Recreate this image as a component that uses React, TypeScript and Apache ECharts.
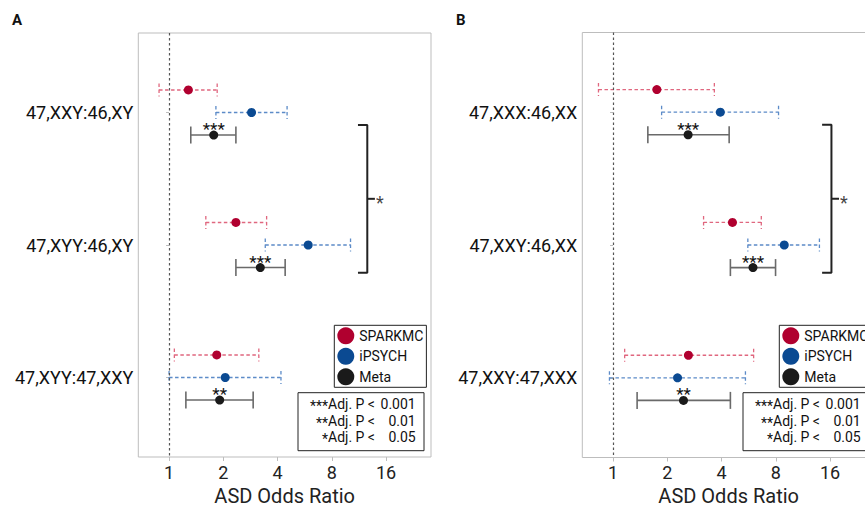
import React, { useEffect, useRef } from 'react';
import * as echarts from 'echarts';

// ---------- data ----------
const panelACategories = ['47,XXY:46,XY', '47,XYY:46,XY', '47,XYY:47,XXY'];
const panelBCategories = ['47,XXX:46,XX', '47,XXY:46,XX', '47,XXY:47,XXX'];
const xTickValues = [1, 2, 4, 8, 16];
const seriesNames = ['SPARKMC', 'iPSYCH', 'Meta'];

// Panel A
const aSparkOR = [1.28, 2.35, 1.84];
const aSparkLo = [0.88, 1.6, 1.07];
const aSparkHi = [1.85, 3.48, 3.15];
const aIpsychOR = [2.87, 5.92, 2.05];
const aIpsychLo = [1.82, 3.42, 1.0];
const aIpsychHi = [4.52, 10.17, 4.18];
const aMetaOR = [1.77, 3.21, 1.91];
const aMetaLo = [1.32, 2.35, 1.24];
const aMetaHi = [2.35, 4.41, 2.93];
const aMetaStars = ['***', '***', '**'];

// Panel B
const bSparkOR = [1.75, 4.6, 2.62];
const bSparkLo = [0.83, 3.18, 1.16];
const bSparkHi = [3.65, 6.65, 6.03];
const bIpsychOR = [3.94, 8.92, 2.28];
const bIpsychLo = [1.86, 5.6, 0.955];
const bIpsychHi = [8.29, 13.98, 5.43];
const bMetaOR = [2.61, 5.98, 2.46];
const bMetaLo = [1.56, 4.48, 1.36];
const bMetaHi = [4.41, 7.98, 4.48];
const bMetaStars = ['***', '***', '**'];

// comparison bracket (between row 1 and row 2), in OR units / row units
const aBracketX = 12.6;
const bBracketX = 16.3;
const bracketRows = [1.094, 2.209];
const bracketStar = '*';

const pKeyStars = ['***', '**', '*'];
const pKeyValues = ['0.001', '0.01', '0.05'];

// ---------- styling ----------
const FONT = 'Roboto, "Noto Sans", sans-serif';
const RED = '#B0002F';
const RED_CI = '#E0677F';
const BLUE = '#0B4A92';
const BLUE_CI = '#5C8BC8';
const BLACK = '#1A1A1A';
const META_CI = '#6A6A6A';
const BORDER = '#BDBDBD';

const X_MIN = -0.567;
const X_MAX = 4.83;
const log2 = (v: number) => Math.log2(v);

function ciSeries(name: string, gridIdx: number, lo: number[], hi: number[], offset: number, color: string, dashed: boolean, capHalf: number, width: number) {
  return {
    type: 'custom',
    name: name + ' CI',
    xAxisIndex: gridIdx,
    yAxisIndex: gridIdx,
    encode: { x: [0, 1], y: 2 },
    data: lo.map((l, i) => [log2(l), log2(hi[i]), i + 1 + offset]),
    renderItem: (params: any, api: any) => {
      const y = api.value(2);
      const p1 = api.coord([api.value(0), y]);
      const p2 = api.coord([api.value(1), y]);
      const style: any = { stroke: color, lineWidth: width, fill: 'none' };
      if (dashed) style.lineDash = [3.5, 2.5];
      return {
        type: 'group',
        children: [
          { type: 'line', shape: { x1: p1[0], y1: p1[1], x2: p2[0], y2: p2[1] }, style },
          { type: 'line', shape: { x1: p1[0], y1: p1[1] - capHalf, x2: p1[0], y2: p1[1] + capHalf }, style },
          { type: 'line', shape: { x1: p2[0], y1: p2[1] - capHalf, x2: p2[0], y2: p2[1] + capHalf }, style },
        ],
      };
    },
    silent: true,
    z: 2,
  };
}

function pointSeries(name: string, gridIdx: number, or: number[], offset: number, color: string, stars?: string[], withRef?: boolean) {
  const s: any = {
    type: 'scatter',
    name,
    xAxisIndex: gridIdx,
    yAxisIndex: gridIdx,
    symbol: 'circle',
    symbolSize: 9,
    itemStyle: { color, opacity: 1 },
    data: or.map((v, i) => [log2(v), i + 1 + offset]),
    z: 3,
  };
  if (stars) {
    s.label = {
      show: true,
      position: 'inside',
      offset: [0, -6],
      formatter: (p: any) => stars[p.dataIndex],
      fontSize: 17,
      fontFamily: FONT,
      color: '#111',
    };
  }
  if (withRef) {
    s.markLine = {
      silent: true,
      symbol: 'none',
      label: { show: false },
      lineStyle: { color: '#555', type: [2.5, 2.5], width: 1.2 },
      data: [{ xAxis: 0 }],
    };
  }
  return s;
}

function bracketSeries(gridIdx: number, bx: number) {
  const xv = log2(bx);
  const left = xv - 0.172;
  const right = xv + 0.14;
  const mid = (bracketRows[0] + bracketRows[1]) / 2;
  const ls = { color: '#222', width: 2 };
  return [
    {
      type: 'line',
      name: 'bracket',
      xAxisIndex: gridIdx,
      yAxisIndex: gridIdx,
      symbol: 'none',
      lineStyle: ls,
      silent: true,
      data: [
        [left, bracketRows[0]],
        [xv, bracketRows[0]],
        [xv, bracketRows[1]],
        [left, bracketRows[1]],
      ],
    },
    {
      type: 'line',
      name: 'bracket-mid',
      xAxisIndex: gridIdx,
      yAxisIndex: gridIdx,
      symbol: 'none',
      lineStyle: ls,
      silent: true,
      data: [
        [xv, mid],
        [right, mid],
      ],
    },
    {
      type: 'scatter',
      name: 'bracket-star',
      xAxisIndex: gridIdx,
      yAxisIndex: gridIdx,
      symbolSize: 0,
      silent: true,
      data: [[right, mid]],
      label: {
        show: true,
        position: 'right',
        distance: 1,
        offset: [0, 4],
        formatter: bracketStar,
        fontSize: 18,
        fontFamily: FONT,
        color: '#111',
      },
    },
  ];
}

function pKeyGraphics(x0: number) {
  const items: any[] = [
    {
      type: 'rect',
      shape: { x: x0, y: 392.7, width: 126, height: 58 },
      style: { fill: '#fff', stroke: '#222', lineWidth: 1 },
      z: 10,
    },
  ];
  const ys = [404, 420.5, 437];
  pKeyStars.forEach((st, i) => {
    const common = { fontSize: 14, fontFamily: FONT, fill: '#111', verticalAlign: 'middle' };
    items.push({ type: 'text', x: x0 + 30, y: ys[i] + 2, style: { ...common, text: st, align: 'right' }, z: 11 });
    items.push({ type: 'text', x: x0 + 30, y: ys[i], style: { ...common, text: 'Adj. P <', align: 'left' }, z: 11 });
    items.push({ type: 'text', x: x0 + 117.7, y: ys[i], style: { ...common, text: pKeyValues[i], align: 'right' }, z: 11 });
  });
  return items;
}

function legendFor(left: number) {
  return {
    data: seriesNames,
    orient: 'vertical',
    left,
    top: 325.3,
    icon: 'circle',
    itemWidth: 17,
    itemHeight: 17,
    itemGap: 3.5,
    padding: [2, 3, 2, 3],
    borderColor: '#222',
    borderWidth: 1,
    backgroundColor: '#fff',
    selectedMode: false,
    textStyle: { fontSize: 14, fontFamily: FONT, color: '#111' },
    z: 10,
  };
}

function axesFor(gridIdx: number, cats: string[]) {
  const x = {
    type: 'value',
    gridIndex: gridIdx,
    min: X_MIN,
    max: X_MAX,
    axisLine: { show: false },
    splitLine: { show: false },
    axisTick: { show: true, customValues: xTickValues.map(log2), length: 4, lineStyle: { color: BORDER } },
    axisLabel: {
      customValues: xTickValues.map(log2),
      formatter: (v: number) => String(xTickValues.find((t) => Math.abs(log2(t) - v) < 1e-6) ?? ''),
      fontSize: 18,
      fontFamily: FONT,
      color: '#222',
      margin: 6,
    },
    name: 'ASD Odds Ratio',
    nameLocation: 'middle',
    nameGap: 27,
    nameTextStyle: { fontSize: 20, lineHeight: 20, fontFamily: FONT, color: '#222' },
  };
  const y = {
    type: 'value',
    gridIndex: gridIdx,
    inverse: true,
    min: 0.4,
    max: 3.6,
    axisLine: { show: false },
    splitLine: { show: false },
    axisTick: { show: true, customValues: [1, 2, 3], length: 3, lineStyle: { color: BORDER } },
    axisLabel: {
      customValues: [1, 2, 3],
      formatter: (v: number) => cats[Math.round(v) - 1] ?? '',
      fontSize: 18,
      fontFamily: FONT,
      color: '#111',
      margin: 5,
    },
  };
  return { x, y };
}

const OFF = 0.17;

function buildOption() {
  const a = axesFor(0, panelACategories);
  const b = axesFor(1, panelBCategories);
  return {
    animation: false,
    textStyle: { fontFamily: FONT },
    grid: [
      { left: 138.3, top: 33, width: 292.7, height: 424, show: true, borderColor: BORDER, borderWidth: 1, backgroundColor: 'transparent', outerBoundsMode: 'none', containLabel: false },
      { left: 582.3, top: 32.5, width: 292.7, height: 425, show: true, borderColor: BORDER, borderWidth: 1, backgroundColor: 'transparent', outerBoundsMode: 'none', containLabel: false },
    ],
    xAxis: [a.x, b.x],
    yAxis: [a.y, b.y],
    legend: [legendFor(334.3), legendFor(779.3)],
    graphic: [
      { type: 'text', x: 12, y: 20, style: { text: 'A', fontSize: 15, fontWeight: 'bold', fontFamily: FONT, fill: '#111', verticalAlign: 'middle' } },
      { type: 'text', x: 456, y: 20, style: { text: 'B', fontSize: 15, fontWeight: 'bold', fontFamily: FONT, fill: '#111', verticalAlign: 'middle' } },
      ...pKeyGraphics(298),
      ...pKeyGraphics(743),
    ],
    series: [
      ciSeries('SPARKMC', 0, aSparkLo, aSparkHi, -OFF, RED_CI, true, 6.5, 1.3),
      ciSeries('iPSYCH', 0, aIpsychLo, aIpsychHi, 0, BLUE_CI, true, 6.5, 1.3),
      ciSeries('Meta', 0, aMetaLo, aMetaHi, OFF, META_CI, false, 8.5, 1.6),
      pointSeries('SPARKMC', 0, aSparkOR, -OFF, RED),
      pointSeries('iPSYCH', 0, aIpsychOR, 0, BLUE),
      pointSeries('Meta', 0, aMetaOR, OFF, BLACK, aMetaStars, true),
      ...bracketSeries(0, aBracketX),
      ciSeries('SPARKMC', 1, bSparkLo, bSparkHi, -OFF, RED_CI, true, 6.5, 1.3),
      ciSeries('iPSYCH', 1, bIpsychLo, bIpsychHi, 0, BLUE_CI, true, 6.5, 1.3),
      ciSeries('Meta', 1, bMetaLo, bMetaHi, OFF, META_CI, false, 8.5, 1.6),
      pointSeries('SPARKMC', 1, bSparkOR, -OFF, RED),
      pointSeries('iPSYCH', 1, bIpsychOR, 0, BLUE),
      pointSeries('Meta', 1, bMetaOR, OFF, BLACK, bMetaStars, true),
      ...bracketSeries(1, bBracketX),
    ],
  };
}

export default function App() {
  const ref = useRef<HTMLDivElement>(null);
  useEffect(() => {
    document.body.style.margin = '0';
    if (!ref.current) return;
    const chart = echarts.init(ref.current, undefined, { renderer: 'svg' });
    chart.setOption(buildOption() as any);
    return () => chart.dispose();
  }, []);
  return <div ref={ref} style={{ width: 865, height: 505, background: '#fff' }} />;
}
